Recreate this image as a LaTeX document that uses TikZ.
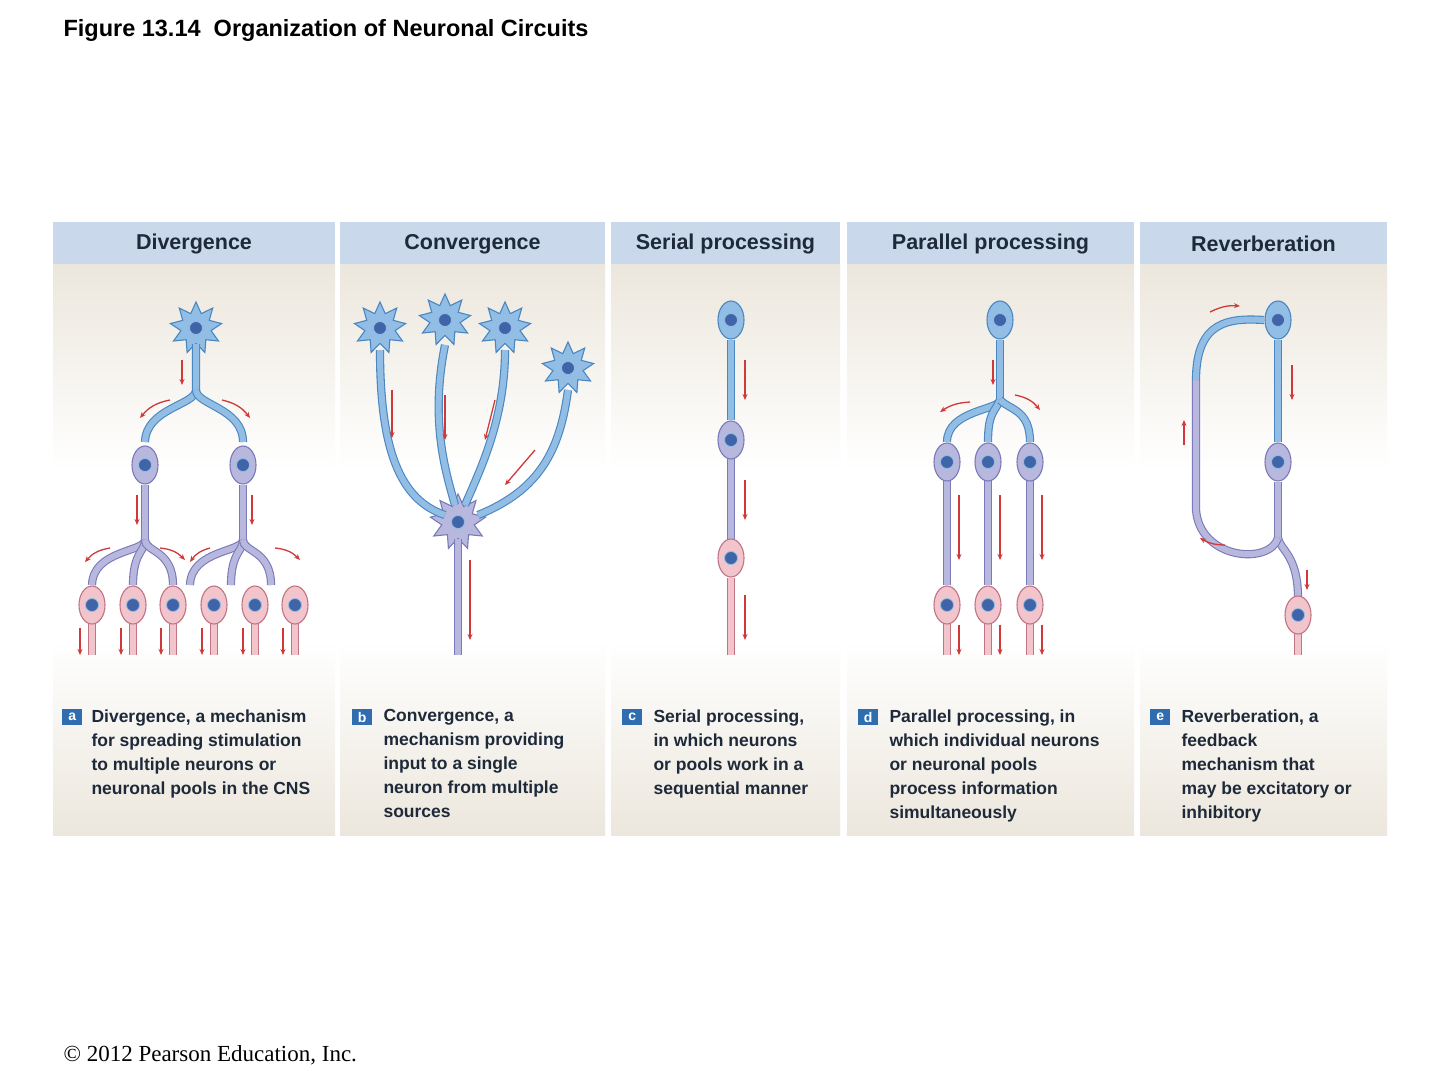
\documentclass[tikz,border=0pt]{standalone}
\usepackage{fontspec}
\setmainfont{Liberation Sans}
\newfontfamily\serifff{Liberation Serif}
\usetikzlibrary{shapes.geometric,arrows.meta}
\definecolor{hdr}{HTML}{C9D8EA}
\definecolor{hdrt}{HTML}{1E2A3A}
\definecolor{beige}{HTML}{ECE7DD}
\definecolor{bE}{HTML}{4A86C0}\definecolor{bF}{HTML}{92BEE6}
\definecolor{lE}{HTML}{7A7AB8}\definecolor{lF}{HTML}{B8B8DE}
\definecolor{pE}{HTML}{C07484}\definecolor{pF}{HTML}{F2C4CC}
\definecolor{nucc}{HTML}{3F64A8}
\definecolor{arr}{HTML}{D0383A}
\definecolor{badge}{HTML}{2F6DB0}
\tikzset{
 axB/.style={draw=bE,double=bF,double distance=6pt,line width=1.1pt},
 axL/.style={draw=lE,double=lF,double distance=6pt,line width=1.1pt},
 axP/.style={draw=pE,double=pF,double distance=6pt,line width=1.1pt},
 sB/.style={ellipse,minimum width=26,minimum height=38,draw=bE,fill=bF,line width=1.1pt},
 sL/.style={ellipse,minimum width=26,minimum height=38,draw=lE,fill=lF,line width=1.1pt},
 sP/.style={ellipse,minimum width=26,minimum height=38,draw=pE,fill=pF,line width=1.1pt},
 stB/.style={star,star points=9,star point ratio=1.7,minimum size=52,draw=bE,fill=bF,line width=1.1pt},
 stL/.style={star,star points=9,star point ratio=1.7,minimum size=56,draw=lE,fill=lF,line width=1.1pt},
 nuc/.style={fill=nucc,draw=bF,line width=0.8pt},
 ra/.style={draw=arr,line width=1.3pt,-{Stealth[length=6pt,width=5pt]}},
 hd/.style={font=\fontsize{21.5}{24}\selectfont\bfseries,text=hdrt},
 captxt/.style={font=\fontsize{17.5}{24}\selectfont\bfseries,text=hdrt,align=left,anchor=north west},
 bd/.style={fill=badge,text=white,font=\fontsize{14}{14}\selectfont\bfseries,minimum width=20,minimum height=16,inner sep=0,anchor=north west}
}
\newcommand\nrn[4]{\node[#4] (#1) at (#2,#3) {}; \draw[nuc] (#1.center) circle (6.5);}
\begin{document}
\begin{tikzpicture}[x=1pt,y=-1pt]
\useasboundingbox (0,0) rectangle (1440,1080);
\fill[white] (0,0) rectangle (1440,1080);
\node[anchor=west,font=\fontsize{23.5}{26}\selectfont\bfseries] (title) at (60,30) {Figure 13.14\ \ Organization of Neuronal Circuits};
\node[anchor=west,font=\serifff\fontsize{23}{26}\selectfont] (copy) at (60,1055) {© 2012 Pearson Education, Inc.};
% panels
\foreach \a/\b/\t in {53/335/Divergence,340/605/Convergence,611/840/Serial processing,847/1134/Parallel processing,1140/1387/Reverberation}{
 \shade[top color=beige,bottom color=white] (\a,264) rectangle (\b,470);
 \shade[top color=white,bottom color=beige] (\a,640) rectangle (\b,835);
 \fill[hdr] (\a,222) rectangle (\b,264);
 \node[hd] at ({(\a+\b)/2},244) {\t};
}
% ---------- Divergence
\nrn{d0}{196}{328}{stB}
\draw[axB] (d0.south) -- (196,390) .. controls (196,405) and (146,408) .. (145,442);
\draw[axB] (196,390) .. controls (196,405) and (243,408) .. (243,442);
\nrn{d1}{145}{465}{sL}\nrn{d2}{243}{465}{sL}
\foreach \c/\n in {145/d1,243/d2}{
 \draw[axL] (\n.south) -- (\c,540);
 \draw[axL] (\c,540) .. controls (\c,552) and (\c-52,550) .. (\c-53,585);
 \draw[axL] (\c,540) .. controls (\c,552) and (\c-12,552) .. (\c-12,585);
 \draw[axL] (\c,540) .. controls (\c,552) and (\c+28,550) .. (\c+28,585);
}
\foreach \x [count=\i] in {92,133,173,214,255,295}{
 \draw[axP] (\x,620) -- (\x,655);
 \nrn{dp\i}{\x}{605}{sP}
 \draw[ra] (\x-12,628) -- (\x-12,655);
}
\draw[ra] (182,360) -- (182,385);
\draw[ra] (137,495) -- (137,525);\draw[ra] (252,495) -- (252,525);
\draw[ra] (170,400) to[bend right=20] (140,418);
\draw[ra] (222,400) to[bend left=20] (250,418);
\draw[ra] (110,548) to[bend right=20] (85,562);
\draw[ra] (160,548) to[bend left=20] (185,560);
\draw[ra] (210,548) to[bend right=20] (190,562);
\draw[ra] (275,548) to[bend left=20] (300,560);
% ---------- Convergence
\nrn{c5}{458}{522}{stL}
\draw[axL] (c5.south) -- (458,655);
\draw[axB] (380,350) .. controls (380,450) and (400,500) .. (445,515);
\draw[axB] (445,345) .. controls (430,420) and (445,470) .. (455,505);
\draw[axB] (505,350) .. controls (505,420) and (480,470) .. (465,505);
\draw[axB] (568,390) .. controls (560,450) and (540,490) .. (478,515);
\nrn{c1}{380}{328}{stB}\nrn{c2}{445}{320}{stB}\nrn{c3}{505}{328}{stB}\nrn{c4}{568}{368}{stB}
\draw[ra] (392,390) -- (392,438);\draw[ra] (445,395) -- (445,440);
\draw[ra] (495,400) -- (485,440);\draw[ra] (535,450) -- (505,485);
\draw[ra] (470,560) -- (470,640);
% ---------- Serial
\draw[axB] (731,340) -- (731,420);
\draw[axL] (731,458) -- (731,540);
\draw[axP] (731,578) -- (731,655);
\nrn{s1}{731}{320}{sB}\nrn{s2}{731}{440}{sL}\nrn{s3}{731}{558}{sP}
\draw[ra] (745,360) -- (745,400);\draw[ra] (745,480) -- (745,520);\draw[ra] (745,595) -- (745,640);
% ---------- Parallel
\draw[axB] (1000,340) -- (1000,400);
\draw[axB] (1000,400) .. controls (1000,410) and (947,410) .. (947,442);
\draw[axB] (1000,400) .. controls (995,412) and (988,412) .. (988,442);
\draw[axB] (1000,400) .. controls (1010,410) and (1030,410) .. (1030,442);
\foreach \x [count=\i] in {947,988,1030}{
 \draw[axL] (\x,480) -- (\x,585);
 \draw[axP] (\x,620) -- (\x,655);
 \nrn{pl\i}{\x}{462}{sL}\nrn{pp\i}{\x}{605}{sP}
 \draw[ra] (\x+12,495) -- (\x+12,560);\draw[ra] (\x+12,625) -- (\x+12,655);
}
\nrn{p0}{1000}{320}{sB}
\draw[ra] (993,360) -- (993,385);
\draw[ra] (970,402) to[bend right=15] (940,412);
\draw[ra] (1015,395) to[bend left=20] (1040,410);
% ---------- Reverberation
\draw[axB] (1278,340) -- (1278,442);
\draw[axL] (1278,482) -- (1278,538);
\draw[axL] (1278,538) .. controls (1280,550) and (1298,555) .. (1298,598);
\draw[axP] (1298,632) -- (1298,655);
\draw[axL] (1278,538) .. controls (1270,565) and (1200,560) .. (1196,510) -- (1196,380);
\draw[axB] (1196,380) .. controls (1196,320) and (1230,318) .. (1264,320);
\nrn{r1}{1278}{320}{sB}\nrn{r2}{1278}{462}{sL}\nrn{r3}{1298}{615}{sP}
\draw[ra] (1292,365) -- (1292,400);\draw[ra] (1307,570) -- (1307,590);
\draw[ra] (1184,445) -- (1184,420);
\draw[ra] (1210,312) to[bend left=15] (1240,306);
\draw[ra] (1225,545) to[bend left=15] (1200,538);
% ---------- captions
\node[bd] (ba) at (62,709) {a};
\node[captxt] (ta) at (88,706) {Divergence, a mechanism\\for spreading stimulation\\to multiple neurons or\\neuronal pools in the CNS};
\node[bd] (bb) at (352,709) {b};
\node[captxt] (tb) at (380,706) {Convergence, a\\mechanism providing\\input to a single\\neuron from multiple\\sources};
\node[bd] (bc) at (622,709) {c};
\node[captxt] (tc) at (650,706) {Serial processing,\\in which neurons\\or pools work in a\\sequential manner};
\node[bd] (bdd) at (858,709) {d};
\node[captxt] (td) at (886,706) {Parallel processing, in\\which individual neurons\\or neuronal pools\\process information\\simultaneously};
\node[bd] (be) at (1150,709) {e};
\node[captxt] (te) at (1178,706) {Reverberation, a\\feedback\\mechanism that\\may be excitatory or\\inhibitory};
\end{tikzpicture}
\end{document}
